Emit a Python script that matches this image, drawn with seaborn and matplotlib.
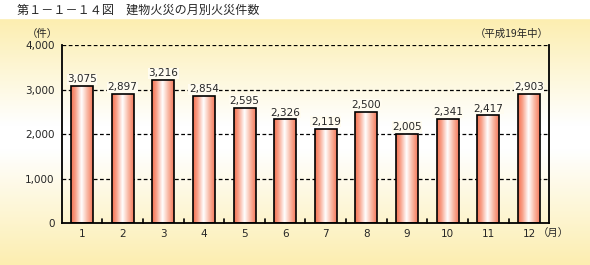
import numpy as np
import pandas as pd
import matplotlib
matplotlib.use("Agg")
import matplotlib.pyplot as plt
import seaborn as sns
from matplotlib.colors import LinearSegmentedColormap

months = ["1", "2", "3", "4", "5", "6", "7", "8", "9", "10", "11", "12"]
fires = [3075, 2897, 3216, 2854, 2595, 2326, 2119, 2500, 2005, 2341, 2417, 2903]
yticks = [0, 1000, 2000, 3000, 4000]
ytick_labels = ["0", "1,000", "2,000", "3,000", "4,000"]
title = "第１－１－１４図　建物火災の月別火災件数"
unit_y = "（件）"
unit_x = "（月）"
period = "（平成19年中）"

sns.set_theme(style="white")
CJK = ["Noto Sans CJK JP", "DejaVu Sans"]
NUM = ["DejaVu Sans", "Noto Sans CJK JP"]
plt.rcParams["font.family"] = CJK

W, H = 590, 265
fig = plt.figure(figsize=(W / 100, H / 100), dpi=100)

# background gradient
bg = fig.add_axes([0, 0, 1, 1], zorder=0)
bg.set_axis_off()
ys = np.linspace(0, 1, 400)  # 0 = top, 1 = bottom (pixel fraction)
yellow = np.array([252, 238, 176]) / 255
white = np.array([1.0, 1.0, 1.0])
img = np.zeros((400, 1, 3))
for i, yy in enumerate(ys):
    px = yy * H
    if px < 19:
        c = white
    elif px < 125:
        t = (px - 19) / (125 - 19)
        c = yellow * (1 - t) + white * t
    elif px < 150:
        c = white
    else:
        t = (px - 150) / (H - 150)
        c = white * (1 - t) + yellow * t
    img[i, 0] = c
bg.imshow(img, aspect="auto", extent=(0, 1, 0, 1), origin="upper")
bg.set_xlim(0, 1)
bg.set_ylim(0, 1)

left, right, top, bottom = 61.7, 549.3, 45, 223
ax = fig.add_axes([left / W, (H - bottom) / H, (right - left) / W, (bottom - top) / H], zorder=1)
ax.patch.set_alpha(0)

df = pd.DataFrame({"month": months, "fires": fires})
sns.barplot(data=df, x="month", y="fires", ax=ax, width=0.54, color="#F5785A",
            edgecolor="black", linewidth=1.2, zorder=3)
ax.set_xlim(-0.5, 11.5)
ax.set_ylim(0, 4000)

cmap = LinearSegmentedColormap.from_list(
    "bar", [(0, "#F4704F"), (0.2, "#F8A088"), (0.48, "#FFFFFF"), (0.75, "#F9B7A2"), (1, "#F4785A")])
grad = np.linspace(0, 1, 256).reshape(1, -1)
for p in ax.patches:
    x0, y0 = p.get_x(), p.get_y()
    w, h = p.get_width(), p.get_height()
    im = ax.imshow(grad, cmap=cmap, aspect="auto", extent=(x0, x0 + w, y0, y0 + h),
                   zorder=2.5, interpolation="bilinear")
    im.set_clip_path(p)
    p.set_facecolor("none")
ax.set_xlim(-0.5, 11.5)
ax.set_ylim(0, 4000)

# grid lines
for v in yticks[1:]:
    ax.axhline(v, color="black", linestyle=(0, (3, 2)), linewidth=0.9, zorder=1)

# spines
for s in ["left", "right", "bottom"]:
    ax.spines[s].set_visible(True)
    ax.spines[s].set_color("black")
    ax.spines[s].set_linewidth(1.3)
ax.spines["top"].set_visible(False)

ax.set_yticks(yticks)
ax.set_yticklabels(ytick_labels, fontsize=7.5, family=NUM)
ax.tick_params(axis="y", length=3, width=1, color="black", pad=2, direction="out")
ax.set_xticks(range(12))
ax.set_xticklabels(months, fontsize=7.5, family=NUM)
ax.tick_params(axis="x", length=0, pad=4)
# small inward ticks at category boundaries
for b in np.arange(0.5, 11.5, 1.0):
    ax.plot([b, b], [0, 90], color="black", linewidth=1.2, zorder=4, clip_on=False)
ax.set_xlabel("")
ax.set_ylabel("")

# value labels
for i, v in enumerate(fires):
    ax.text(i, v + 40, f"{v:,}", ha="center", va="bottom", fontsize=7.5, family=NUM,
            zorder=5, bbox=dict(boxstyle="square,pad=0.05", fc="#FFFCF0", ec="none"))

fig.text(17 / W, 1 - 10 / H, title, ha="left", va="center", fontsize=8.7, family=CJK)
fig.text(58 / W, 1 - 34 / H, unit_y, ha="right", va="center", fontsize=7.5, family=CJK)
fig.text(549 / W, 1 - 34 / H, period, ha="right", va="center", fontsize=7.5, family=CJK)
fig.text(538 / W, 1 - 233 / H, unit_x, ha="left", va="center", fontsize=7.5, family=CJK)

fig.savefig("out.png", dpi=100)
